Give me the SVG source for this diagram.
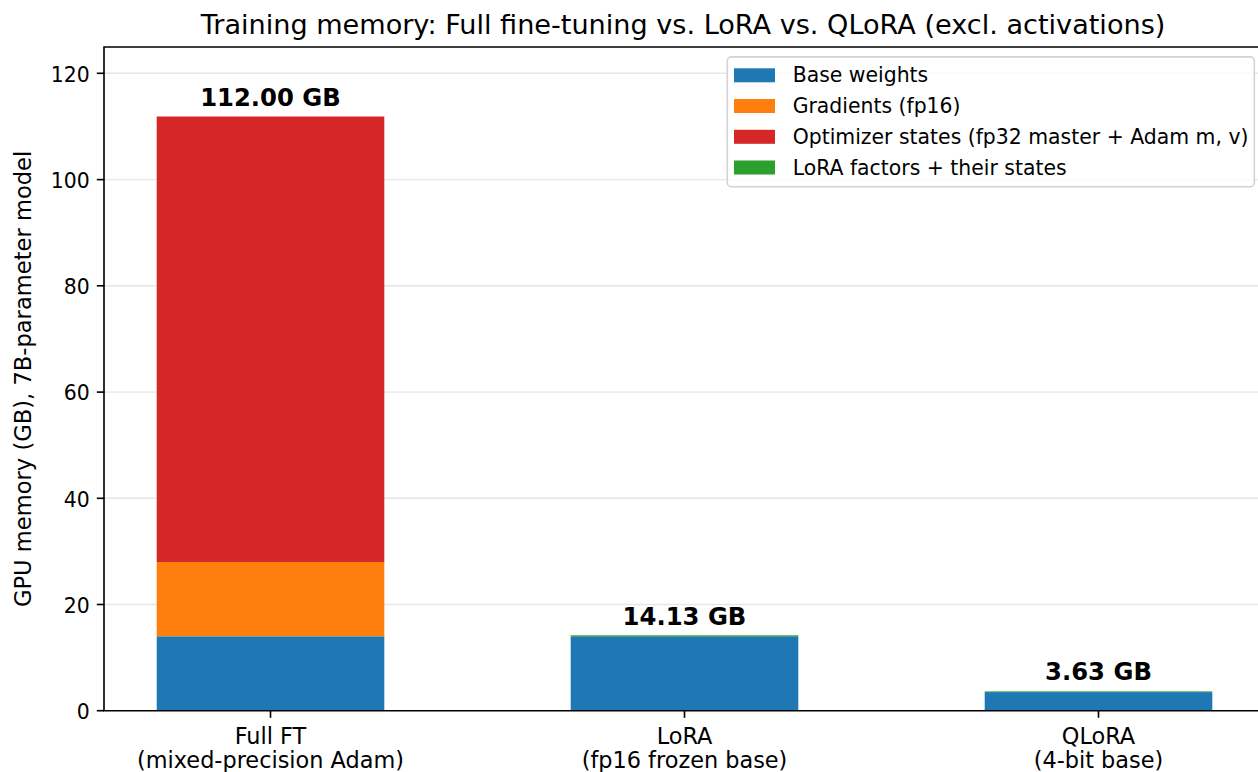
<svg xmlns="http://www.w3.org/2000/svg" width="1258" height="772" viewBox="0 0 1258 772">
<style>
text { font-family: "DejaVu Sans", "Liberation Sans", sans-serif; fill: #000; }
.grid { stroke: #e6e6e6; stroke-width: 1.4; }
.spine { stroke: #000; stroke-width: 1.63; fill: none; stroke-linecap: square; }
.tick { stroke: #000; stroke-width: 1.63; }
.ytl { font-size: 20.4px; text-anchor: end; }
.xtl { font-size: 22.4px; text-anchor: middle; }
.val { font-size: 24.3px; font-weight: bold; text-anchor: middle; }
.leg { font-size: 20.4px; }
.base { fill: #1f77b4; }
.grad { fill: #ff7f0e; }
.opt { fill: #d62728; }
.lora { fill: #2ca02c; }
</style>
<rect width="1258" height="772" fill="#fff"/>

<g id="grid">
  <line class="grid" x1="104" y1="604.5" x2="1258" y2="604.5"/>
  <line class="grid" x1="104" y1="498.3" x2="1258" y2="498.3"/>
  <line class="grid" x1="104" y1="392.1" x2="1258" y2="392.1"/>
  <line class="grid" x1="104" y1="285.8" x2="1258" y2="285.8"/>
  <line class="grid" x1="104" y1="179.6" x2="1258" y2="179.6"/>
  <line class="grid" x1="104" y1="73.3" x2="1258" y2="73.3"/>
</g>

<g id="bar-fullft">
  <rect class="base" x="156.7" y="636.3" width="227.6" height="74.4"/>
  <rect class="grad" x="156.7" y="562.0" width="227.6" height="74.3"/>
  <rect class="opt" x="156.7" y="116.5" width="227.6" height="445.5"/>
  <text class="val" x="270.5" y="105.5">112.00 GB</text>
</g>

<g id="bar-lora">
  <rect class="base" x="570.7" y="636.3" width="227.6" height="74.4"/>
  <rect class="lora" x="570.7" y="635.3" width="227.6" height="1.1"/>
  <text class="val" x="684.5" y="624.6">14.13 GB</text>
</g>

<g id="bar-qlora">
  <rect class="base" x="984.7" y="692.1" width="227.6" height="18.6"/>
  <rect class="lora" x="984.7" y="691.4" width="227.6" height="0.7"/>
  <text class="val" x="1098.5" y="680.4">3.63 GB</text>
</g>

<g id="axes">
  <polyline class="spine" points="1260,47 104,47 104,710.7 1260,710.7"/>
  <line class="tick" x1="96.8" y1="710.7" x2="104" y2="710.7"/>
  <line class="tick" x1="96.8" y1="604.5" x2="104" y2="604.5"/>
  <line class="tick" x1="96.8" y1="498.3" x2="104" y2="498.3"/>
  <line class="tick" x1="96.8" y1="392.1" x2="104" y2="392.1"/>
  <line class="tick" x1="96.8" y1="285.8" x2="104" y2="285.8"/>
  <line class="tick" x1="96.8" y1="179.6" x2="104" y2="179.6"/>
  <line class="tick" x1="96.8" y1="73.3" x2="104" y2="73.3"/>
  <text class="ytl" x="89.7" y="719">0</text>
  <text class="ytl" x="89.7" y="612.8">20</text>
  <text class="ytl" x="89.7" y="506.6">40</text>
  <text class="ytl" x="89.7" y="400.4">60</text>
  <text class="ytl" x="89.7" y="294.1">80</text>
  <text class="ytl" x="89.7" y="187.9">100</text>
  <text class="ytl" x="89.7" y="81.6">120</text>
  <line class="tick" x1="270.5" y1="710.7" x2="270.5" y2="717.8"/>
  <line class="tick" x1="684.5" y1="710.7" x2="684.5" y2="717.8"/>
  <line class="tick" x1="1098.5" y1="710.7" x2="1098.5" y2="717.8"/>
  <text class="xtl" x="270.5" y="743.5">Full FT</text>
  <text class="xtl" x="270.5" y="768">(mixed-precision Adam)</text>
  <text class="xtl" x="684.5" y="743.5">LoRA</text>
  <text class="xtl" x="684.5" y="768">(fp16 frozen base)</text>
  <text class="xtl" x="1098.5" y="743.5">QLoRA</text>
  <text class="xtl" x="1098.5" y="768">(4-bit base)</text>
  <text font-size="22.6" text-anchor="middle" transform="translate(31,378.9) rotate(-90)">GPU memory (GB), 7B-parameter model</text>
  <text font-size="27.1" text-anchor="middle" x="683" y="33.5">Training memory: Full fine-tuning vs. LoRA vs. QLoRA (excl. activations)</text>
</g>

<g id="legend">
  <rect x="727.3" y="56.9" width="527" height="129.8" rx="4" ry="4" fill="#fff" fill-opacity="0.8" stroke="#d3d3d3" stroke-width="1.6"/>
  <rect class="base" x="734" y="68.3" width="41" height="14"/>
  <rect class="grad" x="734" y="99" width="41" height="14"/>
  <rect class="opt" x="734" y="129.8" width="41" height="14"/>
  <rect class="lora" x="734" y="160.5" width="41" height="14"/>
  <text class="leg" x="792.7" y="82.3">Base weights</text>
  <text class="leg" x="792.7" y="113">Gradients (fp16)</text>
  <text class="leg" x="792.7" y="143.8">Optimizer states (fp32 master + Adam m, v)</text>
  <text class="leg" x="792.7" y="174.5">LoRA factors + their states</text>
</g>
</svg>
